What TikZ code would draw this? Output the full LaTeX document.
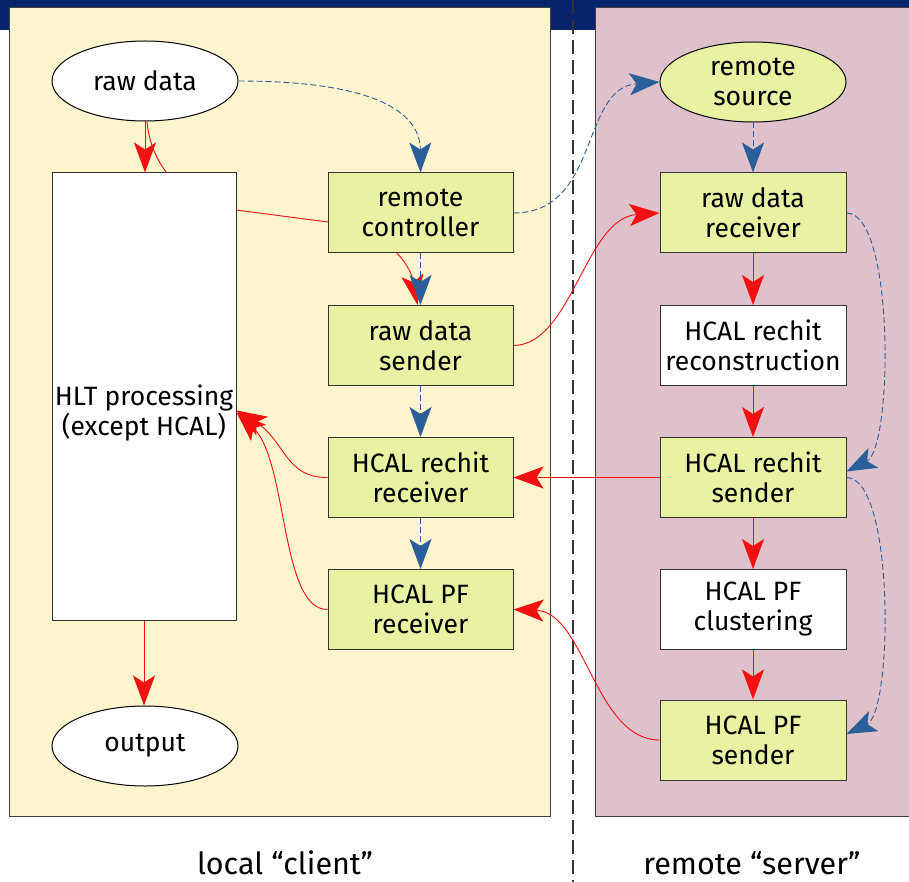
\documentclass[tikz,border=0pt]{standalone}
\usepackage{fontspec}
\setmainfont{Fira Sans}
\usetikzlibrary{shapes.geometric,arrows.meta}
\definecolor{panelY}{HTML}{FEF4CE}
\definecolor{panelR}{HTML}{DFC1CB}
\definecolor{boxG}{HTML}{E8F2A2}
\definecolor{redL}{HTML}{F21010}
\definecolor{blueL}{HTML}{2A5F9A}
\definecolor{navy}{HTML}{06246B}
\pgfdeclarelayer{bg}
\pgfdeclarelayer{mid}
\pgfsetlayers{bg,mid,main}
\tikzset{
  txt/.style={font=\fontsize{26.5}{30}\selectfont, align=center},
  gbox/.style={txt, rectangle, draw=black!80, line width=1pt, fill=boxG, minimum width=185pt, minimum height=80pt, inner sep=0pt},
  wbox/.style={gbox, fill=white},
  ell/.style={txt, ellipse, draw=black, line width=1pt, fill=white, minimum width=186pt, minimum height=80pt, inner sep=0pt},
  panel/.style={draw=black!75, line width=1pt},
  redarr/.style={draw=redL, line width=0.9pt, -{Stealth[length=30pt, width=22pt, inset=7pt]}},
  bluearr/.style={draw=blueL, line width=0.9pt, dash pattern=on 6pt off 3pt, -{Stealth[length=30pt, width=22pt, inset=7pt, fill=blueL]}},
  caption/.style={font=\fontsize{30.5}{34}\selectfont}
}
\begin{document}
\begin{tikzpicture}[x=1pt,y=1pt]
\useasboundingbox (0,0) rectangle (909,-882);
\begin{pgfonlayer}{bg}
  \fill[white] (0,0) rectangle (909,-882);
  \fill[navy] (0,0) rectangle (909,-30);
  \draw[panel, fill=panelY] (9,-8) rectangle (550,-816);
  \draw[panel, fill=panelR] (595,-8) rectangle (915,-816);
  \draw[black!80, line width=1.2pt, dash pattern=on 14pt off 6pt] (573,0) -- (573,-882);
\end{pgfonlayer}

% local side
\node[ell] (raw) at (145,-81) {raw data};
\node[wbox, minimum width=184pt, minimum height=447pt] (hlt) at (144,-396.5) {};
\node[txt] (hlttxt) at (144,-413) {HLT processing\\(except HCAL)};
\node[ell] (out) at (145,-746) {output};
\node[gbox] (rc) at (420.5,-213) {remote\\controller};
\node[gbox] (rds) at (420.5,-345.5) {raw data\\sender};
\node[gbox] (rrr) at (420.5,-477.5) {HCAL rechit\\receiver};
\node[gbox] (pfr) at (420.5,-609.5) {HCAL PF\\receiver};

% remote side
\node[ell, fill=boxG] (rs) at (753,-82) {remote\\source};
\node[gbox, minimum width=186pt] (rdr) at (753,-213) {raw data\\receiver};
\node[wbox, minimum width=186pt] (rec) at (753,-345.5) {HCAL rechit\\reconstruction};
\node[gbox, minimum width=186pt] (rhs) at (753,-477.5) {HCAL rechit\\sender};
\node[wbox, minimum width=186pt] (pfc) at (753,-609.5) {HCAL PF\\clustering};
\node[gbox, minimum width=186pt] (pfs) at (753,-740) {HCAL PF\\sender};

\node[caption] (lcap) at (285,-863) {local “client”};
\node[caption] (rcap) at (752,-863) {remote “server”};

% hidden red path (behind boxes)
\begin{pgfonlayer}{mid}
  \draw[redarr] ([xshift=2pt]raw.south) .. controls (150,-160) and (178,-204) .. (236,-210)
     -- (328,-222) .. controls (385,-230) and (410,-262) .. ([xshift=-3pt]rds.north);
\end{pgfonlayer}

% red connectors
\draw[redarr] (raw.south) -- (raw.south |- hlt.north);
\draw[redarr] (hlt.south) -- (hlt.south |- out.north);
\draw[redarr] (rds.east) .. controls (572,-345) and (585,-218) .. (rdr.west);
\draw[redarr] (rdr.south) -- (rec.north);
\draw[redarr] (rec.south) -- (rhs.north);
\draw[redarr] (rhs.south) -- (pfc.north);
\draw[redarr] (pfc.south) -- (pfs.north);
\draw[redarr] (rhs.west) -- (rrr.east);
\draw[redarr] (pfs.west) .. controls (595,-740) and (585,-612) .. (pfr.east);
\draw[redarr] (rrr.west) .. controls (285,-478) and (285,-440) .. ([yshift=-14pt]hlt.east);
\draw[redarr] (pfr.west) .. controls (280,-610) and (288,-460) .. ([yshift=-16pt]hlt.east);

% blue dashed connectors
\draw[bluearr] (raw.east) .. controls (370,-81) and (420,-110) .. (rc.north);
\draw[bluearr] (rc.east) .. controls (600,-213) and (580,-88) .. (rs.west);
\draw[bluearr] (rc.south) -- (rds.north);
\draw[bluearr] (rds.south) -- (rrr.north);
\draw[bluearr] (rrr.south) -- (pfr.north);
\draw[bluearr] (rs.south) -- (rdr.north);
\draw[bluearr] (rdr.east) .. controls (895,-213) and (893,-448) .. ([yshift=6pt]rhs.east);
\draw[bluearr] (rhs.east) .. controls (895,-478) and (893,-712) .. ([yshift=6pt]pfs.east);
\end{tikzpicture}
\end{document}
